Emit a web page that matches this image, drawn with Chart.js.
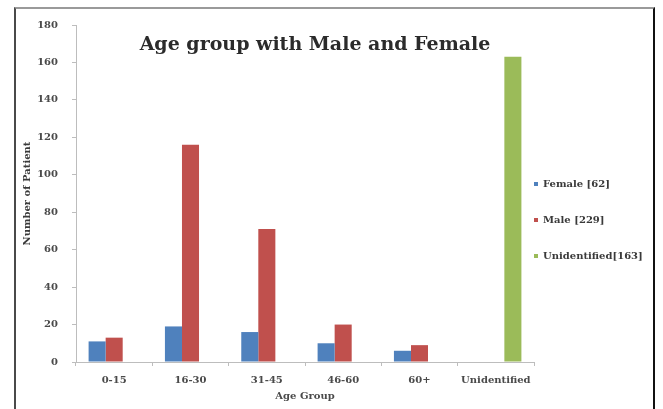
<!DOCTYPE html>
<html>
<head>
<meta charset="utf-8">
<script src="https://cdn.jsdelivr.net/npm/chart.js@4/dist/chart.umd.min.js"></script>
<style>
  html, body { margin: 0; padding: 0; background: #fff; }
  #wrap { position: relative; width: 663px; height: 409px; overflow: hidden; }
  #frame {
    position: absolute; left: 14px; top: 7px; width: 641px; height: 420px;
    border-left: 2px solid #4a4a4a; border-top: 2px solid #9a9a9a; border-right: 2px solid #111;
    box-sizing: border-box; pointer-events: none;
  }
  canvas { position: absolute; left: 0; top: 0; }
</style>
</head>
<body>
<div id="wrap">
  <canvas id="c" width="663" height="409"></canvas>
  <div id="frame"></div>
</div>
<script>
// Patients per age group, split by sex
const categories = ['0-15', '16-30', '31-45', '46-60', '60+', 'Unidentified'];
const femaleValues = [11, 19, 16, 10, 6, null];
const maleValues = [13, 116, 71, 20, 9, null];
const unidentifiedValues = [null, null, null, null, null, 163];
const seriesLabels = ['Female [62]', 'Male [229]', 'Unidentified[163]'];
const yTicks = [0, 20, 40, 60, 80, 100, 120, 140, 160, 180];
const chartTitle = 'Age group with Male and Female';
const xTitle = 'Age Group';
const yTitle = 'Number of Patient';

const SERIF = '"DejaVu Serif", "Liberation Serif", serif';
const tickFont = { family: SERIF, size: 10, weight: 'bold' };

// Title sits inside the plot region, over the bars
const titlePlugin = {
  id: 'insideTitle',
  afterDraw(chart) {
    const ctx = chart.ctx;
    ctx.save();
    ctx.font = 'bold 19px ' + SERIF;
    ctx.fillStyle = '#2b2b2b';
    ctx.textAlign = 'center';
    ctx.textBaseline = 'alphabetic';
    ctx.fillText(chartTitle, 315, 50);
    ctx.restore();
  }
};

// Place legend items next to the plot edge
const legendPlacer = {
  id: 'legendPlacer',
  afterLayout(chart) {
    const lg = chart.legend;
    if (!lg) return;
    lg.left = 508;
    lg.top = 153;
  }
};

new Chart(document.getElementById('c'), {
  type: 'bar',
  data: {
    labels: categories,
    datasets: [
      { label: seriesLabels[0], data: femaleValues, backgroundColor: '#4F81BD' },
      { label: seriesLabels[1], data: maleValues, backgroundColor: '#C0504D' },
      { label: seriesLabels[2], data: unidentifiedValues, backgroundColor: '#9BBB59' }
    ]
  },
  options: {
    responsive: false,
    animation: false,
    events: [],
    layout: { padding: { top: 25, right: 0, left: 0, bottom: 0 } },
    datasets: { bar: { categoryPercentage: 0.67, barPercentage: 1.0 } },
    plugins: {
      title: { display: false },
      tooltip: { enabled: false },
      legend: {
        position: 'right',
        align: 'start',
        maxWidth: 129,
        labels: {
          boxWidth: 4,
          boxHeight: 4,
          padding: 26,
          color: '#3a3a3a',
          font: { family: SERIF, size: 10, weight: 'bold' }
        }
      }
    },
    scales: {
      x: {
        afterFit(s) { s.height = 47; },
        grid: { display: true, drawOnChartArea: false, offset: true, tickLength: 4, color: '#bdbdbd' },
        border: { display: true, color: '#bdbdbd', width: 1 },
        ticks: { color: '#4a4a4a', font: tickFont, padding: 8, maxRotation: 0, autoSkip: false },
        title: { display: true, text: xTitle, color: '#4a4a4a', font: tickFont, padding: { top: 0, bottom: 7 } }
      },
      y: {
        min: 0,
        max: 180,
        afterFit(s) { s.width = 76; },
        afterBuildTicks(s) { s.ticks = yTicks.map(v => ({ value: v })); },
        grid: { display: true, drawOnChartArea: false, tickLength: 4, color: '#bdbdbd' },
        border: { display: true, color: '#bdbdbd', width: 1 },
        ticks: { color: '#4a4a4a', font: tickFont, padding: 14 },
        title: { display: true, text: yTitle, color: '#3a3a3a', font: tickFont, padding: { top: 21, bottom: 0 } }
      }
    }
  },
  plugins: [titlePlugin, legendPlacer]
});
</script>
</body>
</html>
